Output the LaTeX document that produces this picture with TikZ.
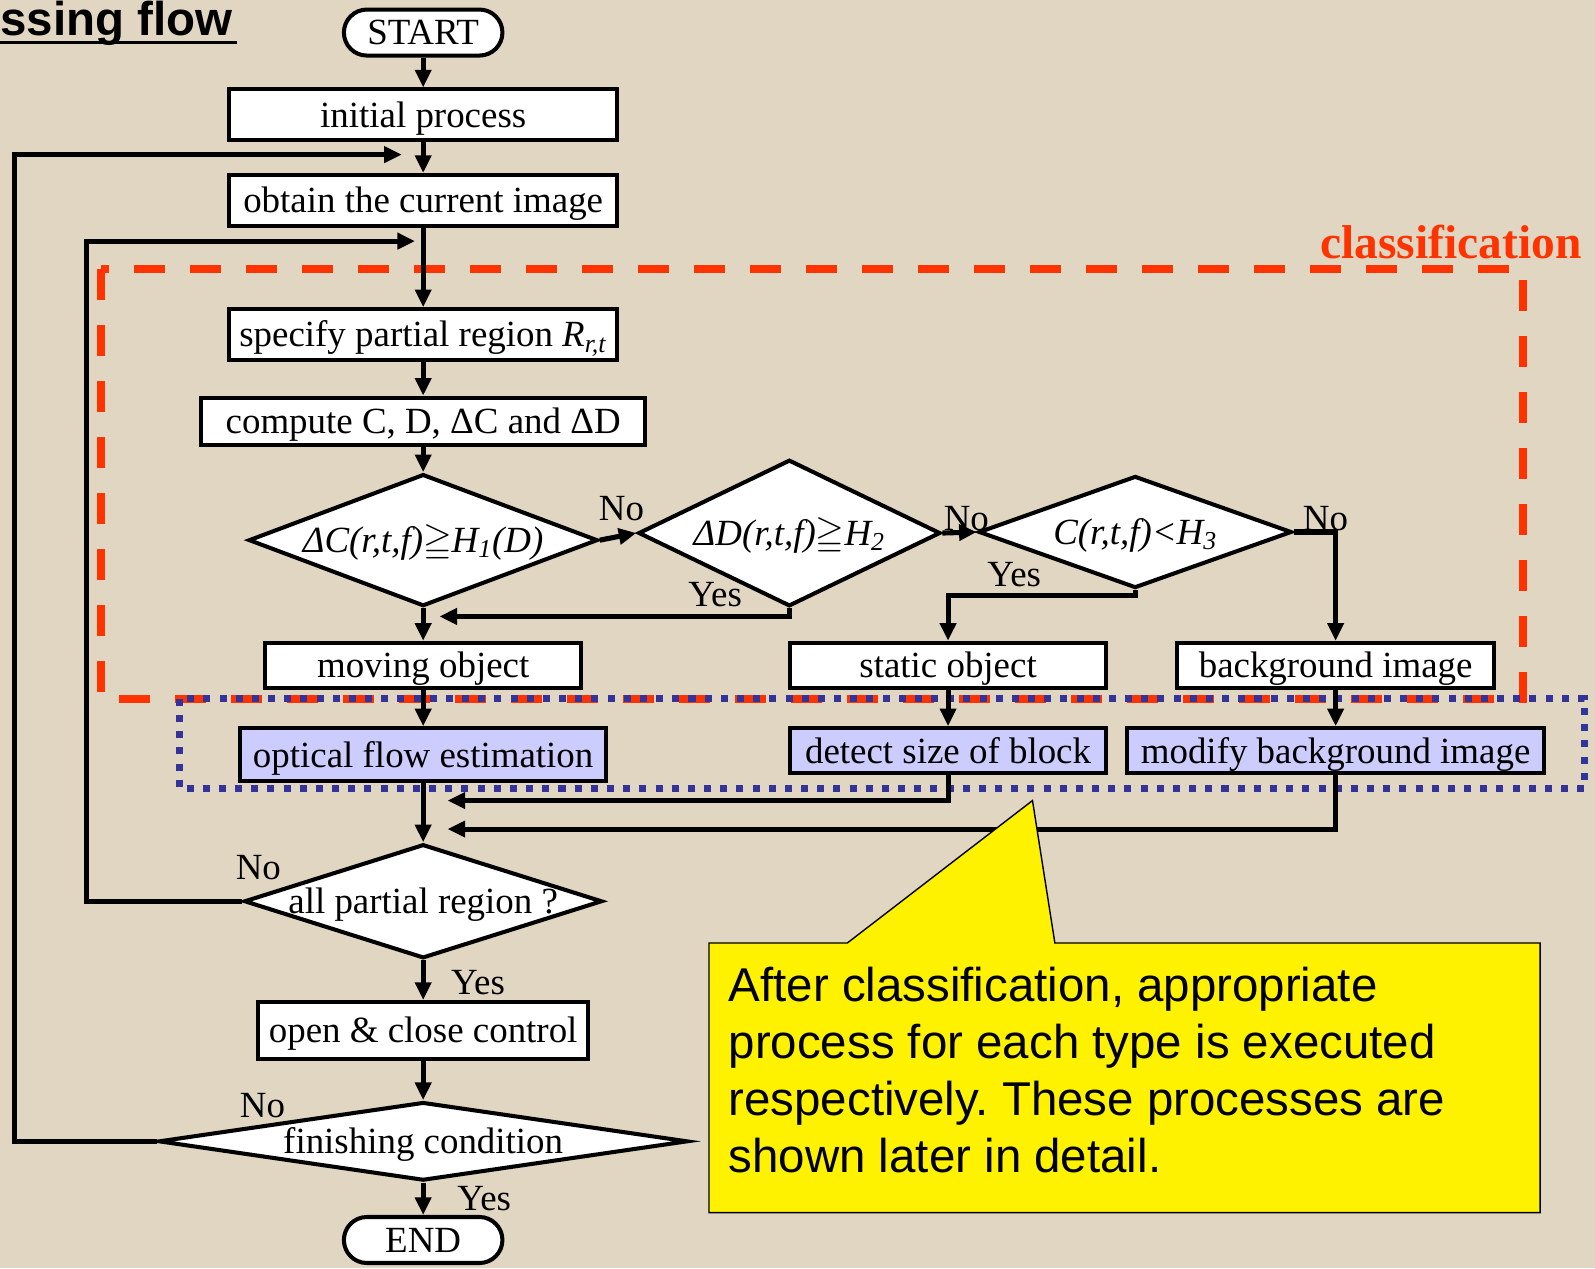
\documentclass[tikz,border=0pt]{standalone}
\usepackage{fontspec}
\usepackage{amssymb}
\setmainfont{Liberation Serif}
\newfontfamily\arialfont{Liberation Sans}
\usetikzlibrary{arrows.meta,shapes.geometric}
\frenchspacing

\definecolor{bgtan}{RGB}{224,214,194}
\definecolor{classred}{RGB}{255,51,0}
\definecolor{blockblue}{RGB}{51,51,153}
\definecolor{procblue}{RGB}{204,204,255}

% text of a decision that does not widen the diamond
\newcommand{\flatlabel}[1]{\makebox[0pt]{#1}}

\tikzset{
  flowbox/.style={draw, line width=2.3pt, fill=white, inner sep=0pt, text height=16pt, text depth=2pt, font=\fontsize{21}{24}\selectfont},
  procbox/.style={flowbox, fill=procblue},
  termbox/.style={flowbox, rounded corners=0.46cm, minimum width=3.17cm, minimum height=0.92cm},
  decision/.style={draw, diamond, aspect=2.5, line width=2.3pt, fill=white, inner sep=0pt, text height=16pt, text depth=2pt, font=\fontsize{21}{24}\selectfont},
  arr/.style={line width=2.9pt, -{Triangle[length=10pt,width=9pt]}},
  answer/.style={inner sep=0pt, font=\fontsize{21}{24}\selectfont},
}

\begin{document}
\begin{tikzpicture}[x=0.02034cm, y=-0.02034cm]
    % Background
    \path[use as bounding box, fill=bgtan] (0,0) rectangle (1568,1247);

    % Title
    \node[anchor=base west, inner sep=0pt, font=\arialfont\bfseries\fontsize{27}{30}\selectfont] (title) at (0,35) {ssing flow};
    \draw[line width=2pt] (0,42) -- (233,42);

    % Frames
    \draw[classred, line width=4.5pt, dash pattern=on 0.62cm off 0.5cm] (99,264) rectangle (1497,687);
    \draw[blockblue, line width=4pt, dash pattern=on 4pt off 5.2pt] (176,687) rectangle (1558,775);
    \node[anchor=base east, inner sep=0pt, text=classred, font=\bfseries\fontsize{27}{30}\selectfont] (classlbl) at (1555,254) {classification};

    % Steps
    \node[termbox] (start) at (416,32) {START};
    \node[flowbox, minimum width=7.75cm, minimum height=1.02cm] (init) at (416,113) {initial process};
    \node[flowbox, minimum width=7.75cm, minimum height=1.02cm] (obtain) at (416,197) {obtain the current image};
    \node[flowbox, minimum width=7.75cm, minimum height=1.02cm] (spec) at (416,329) {specify partial region \textit{R}\textsubscript{\textit{r,t}}};
    \node[flowbox, minimum width=8.89cm, minimum height=0.94cm] (comp) at (416,414) {compute C, D, ΔC and ΔD};

    % Classification
    \node[decision, minimum width=6.98cm, minimum height=2.64cm] (dc) at (416,531) {\flatlabel{\itshape ΔC(r,t,f)$\geqq$H\textsubscript{1}(D)}};
    \node[decision, minimum width=6.04cm, minimum height=2.93cm] (dd) at (776,524) {\flatlabel{\itshape ΔD(r,t,f)$\geqq$H\textsubscript{2}}};
    \node[decision, minimum width=6.26cm, minimum height=2.24cm] (dcc) at (1116,523) {\flatlabel{\itshape C(r,t,f)<H\textsubscript{3}}};
    \node[flowbox, minimum width=6.33cm, minimum height=0.9cm] (moving) at (416,654) {moving object};
    \node[flowbox, minimum width=6.31cm, minimum height=0.9cm] (static) at (932,654) {static object};
    \node[flowbox, minimum width=6.35cm, minimum height=0.9cm] (bgimg) at (1313,654) {background image};

    % Processing per type
    \node[procbox, minimum width=7.32cm, minimum height=1.06cm] (optflow) at (416,742) {optical flow estimation};
    \node[procbox, minimum width=6.31cm, minimum height=0.9cm] (detect) at (932,738) {detect size of block};
    \node[procbox, minimum width=8.34cm, minimum height=0.9cm] (modify) at (1313,738) {modify background image};

    % Loop ends
    \node[decision, minimum width=7.16cm, minimum height=2.28cm] (allreg) at (416,886) {\flatlabel{all partial region ?}};
    \node[flowbox, minimum width=6.61cm, minimum height=1.14cm] (openclose) at (416,1013) {open \& close control};
    \node[decision, minimum width=10.58cm, minimum height=1.57cm] (finish) at (416,1122) {\flatlabel{finishing condition}};
    \node[termbox] (end) at (416,1219) {END};

    % Free ends
    \coordinate (yesc) at (432,606);
    \coordinate (joina) at (440,787);
    \coordinate (joinb) at (440,815);
    \coordinate (loopa) at (85,237);
    \coordinate (backa) at (408,237);
    \coordinate (loopb) at (14,152);
    \coordinate (backb) at (395,152);

    % Connectors
    \draw[arr] (start) -- (init);
    \draw[arr] (init) -- (obtain);
    \draw[arr] (obtain) -- (spec);
    \draw[arr] (spec) -- (comp);
    \draw[arr] (comp) -- (dc);
    \draw[arr] (dc.east) -- (dd.west);
    \draw[arr] (dd.east) -- (dcc.west);
    \draw[arr] (dcc.east) -| (bgimg.north);
    \draw[arr] (dd.south) |- (yesc);
    \draw[arr] (dc) -- (moving);
    \draw[arr] (dcc.south) -- ++(0,5) -| (static.north);
    \draw[arr] (moving) -- (optflow);
    \draw[arr] (static) -- (detect);
    \draw[arr] (bgimg) -- (modify);
    \draw[arr] (optflow) -- (allreg);
    \draw[arr] (detect.south) |- (joina);
    \draw[arr] (modify.south) |- (joinb);
    \draw[arr] (allreg.west) -| (loopa) -- (backa);
    \draw[arr] (allreg) -- (openclose);
    \draw[arr] (openclose) -- (finish);
    \draw[arr] (finish.west) -| (loopb) -- (backb);
    \draw[arr] (finish) -- (end);

    % Answers
    \node[answer] (noc) at (611,500) {No};
    \node[answer] (nod) at (950,510) {No};
    \node[answer] (nocc) at (1303,510) {No};
    \node[answer] (yesd) at (703,585) {Yes};
    \node[answer] (yescc) at (997,565) {Yes};
    \node[answer] (noall) at (254,853) {No};
    \node[answer] (yesall) at (470,966) {Yes};
    \node[answer] (nofin) at (258,1087) {No};
    \node[answer] (yesfin) at (476,1178) {Yes};

    % Callout
    \draw[fill=yellow, line width=0.8pt] (697,927) -- (833,927) -- (1015,787) -- (1037,927) -- (1514,927) -- (1514,1192) -- (697,1192) -- cycle;
    \node[anchor=north west, align=left, inner sep=0pt, font=\arialfont\fontsize{27}{32.5}\selectfont] (note) at (716,950) {After classification, appropriate\\process for each type is executed\\respectively. These processes are\\shown later in detail.};
\end{tikzpicture}
\end{document}
